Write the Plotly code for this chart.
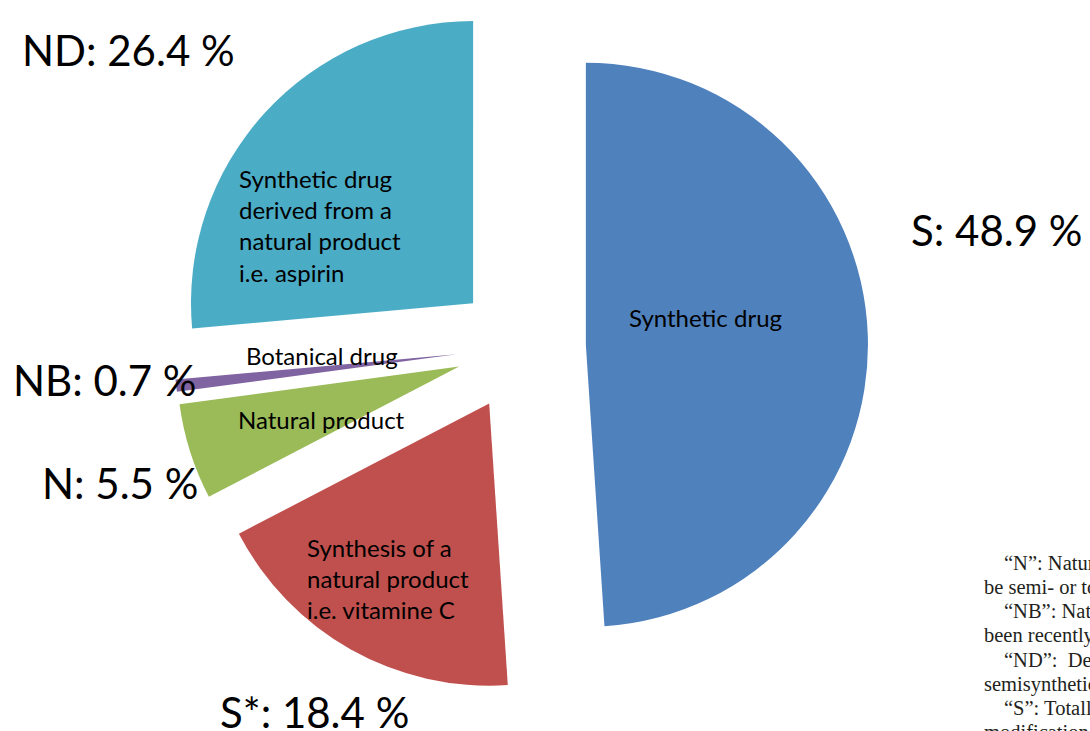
import plotly.graph_objects as go

# ---- data ----
codes = ["S", "S*", "N", "NB", "ND"]
values = [48.9, 18.4, 5.5, 0.7, 26.4]
colors = ["#4F81BD", "#C0504D", "#9BBB59", "#8064A2", "#4BACC6"]
pct_labels = ["S: 48.9 %", "S*: 18.4 %", "N: 5.5 %", "NB: 0.7 %", "ND: 26.4 %"]
descriptions = [
    "Synthetic drug",
    "Synthesis of a<br>natural product<br>i.e. vitamine C",
    "Natural product",
    "Botanical drug",
    "Synthetic drug<br>derived from a<br>natural product<br>i.e. aspirin",
]
footnote_lines = [
    "\u201cN\u201d: Natural products",
    "be semi- or totally",
    "\u201cNB\u201d: Natural botanical",
    "been recently approved",
    "\u201cND\u201d:  Derived",
    "semisynthetic modification",
    "\u201cS\u201d: Totally synthetic",
    "modification",
]
footnote_indent = [True, False, True, False, True, False, True, False]

W, H = 1090, 731
PULL = 0.23

fig = go.Figure(
    go.Pie(
        labels=codes,
        values=values,
        marker=dict(colors=colors, line=dict(width=0)),
        sort=False,
        direction="clockwise",
        rotation=0,
        pull=[PULL] * len(values),
        textinfo="none",
        hoverinfo="none",
        showlegend=False,
        domain=dict(x=[0, 2 * 521 / W], y=[1 - 694 / H, 1]),
    )
)

def px(x):
    return x / W

def py(y):
    return 1 - y / H

big_font = dict(family="Lato", size=42, color="#000000")
small_font = dict(family="Lato", size=24, color="#000000")

# big percentage labels (pixel centers)
big_pos = {
    "S": (996, 230),
    "S*": (314, 712),
    "N": (120, 483),
    "NB": (105, 380),
    "ND": (128, 50),
}
annotations = []
for code, lab in zip(codes, pct_labels):
    x, y = big_pos[code]
    annotations.append(dict(x=px(x), y=py(y), xref="paper", yref="paper",
                            text=lab, showarrow=False, font=big_font,
                            xanchor="center", yanchor="middle"))

# slice descriptions
desc_pos = {
    "S": (705, 317, "center", "center"),
    "S*": (305, 578, "left", "left"),
    "N": (321, 419, "center", "center"),
    "NB": (322, 356, "center", "center"),
    "ND": (237, 225, "left", "left"),
}
for code, d in zip(codes, descriptions):
    x, y, xa, al = desc_pos[code]
    annotations.append(dict(x=px(x), y=py(y), xref="paper", yref="paper",
                            text=d, showarrow=False, font=small_font,
                            xanchor=xa, yanchor="middle", align=al))

# cropped footnote text at bottom right
serif = dict(family="Liberation Serif", size=20.5, color="#231f20")
y0 = 563
for i, (line, ind) in enumerate(zip(footnote_lines, footnote_indent)):
    annotations.append(dict(x=px(1002 if ind else 982), y=py(y0 + i * 24.2),
                            xref="paper", yref="paper",
                            text=line, showarrow=False, font=serif,
                            xanchor="left", yanchor="middle", align="left"))

fig.update_layout(
    width=W, height=H,
    margin=dict(l=0, r=0, t=0, b=0),
    paper_bgcolor="#FFFFFF",
    plot_bgcolor="#FFFFFF",
    annotations=annotations,
)

fig.write_html("out.html")
